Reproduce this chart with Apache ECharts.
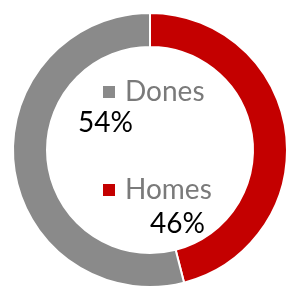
<!DOCTYPE html>
<html>
<head>
<meta charset="utf-8">
<script src="https://cdn.jsdelivr.net/npm/echarts@6/dist/echarts.min.js"></script>
<style>
  html, body { margin: 0; padding: 0; background: #fff; }
  #chart { width: 292px; height: 293px; }
</style>
</head>
<body>
<div id="chart"></div>
<script>
// data
var names = ['Homes', 'Dones']
var values = [46, 54]
var colors = ['#c40000', '#8a8a8a']

var chart = echarts.init(document.getElementById('chart'))

var total = values[0] + values[1]
function pct(i) {
  return Math.round(values[i] / total * 100) + '%'
}

chart.setOption({
  backgroundColor: '#fff',
  animation: false,
  legend: {
    orient: 'vertical',
    left: 96,
    top: 73,
    itemWidth: 14,
    itemHeight: 14,
    itemGap: 70,
    icon: 'rect',
    selectedMode: false,
    data: [names[1], names[0]],
    textStyle: {
      fontFamily: 'Lato',
      fontSize: 28,
      color: '#7a7a7a',
      padding: [0, 0, 0, 4]
    }
  },
  graphic: [
    {
      type: 'text',
      left: 78,
      top: 109,
      style: { text: pct(1), font: '28px Lato', fill: '#000' }
    },
    {
      type: 'text',
      left: 150,
      top: 210,
      style: { text: pct(0), font: '28px Lato', fill: '#000' }
    }
  ],
  series: [{
    type: 'pie',
    center: [150, 150],
    radius: [103, 137],
    startAngle: 90,
    clockwise: true,
    label: { show: false },
    labelLine: { show: false },
    emphasis: { disabled: true },
    itemStyle: {
      borderColor: '#fff',
      borderWidth: 2
    },
    data: names.map(function(n, i) {
      return { name: n, value: values[i], itemStyle: { color: colors[i] } }
    })
  }]
})
</script>
</body>
</html>
